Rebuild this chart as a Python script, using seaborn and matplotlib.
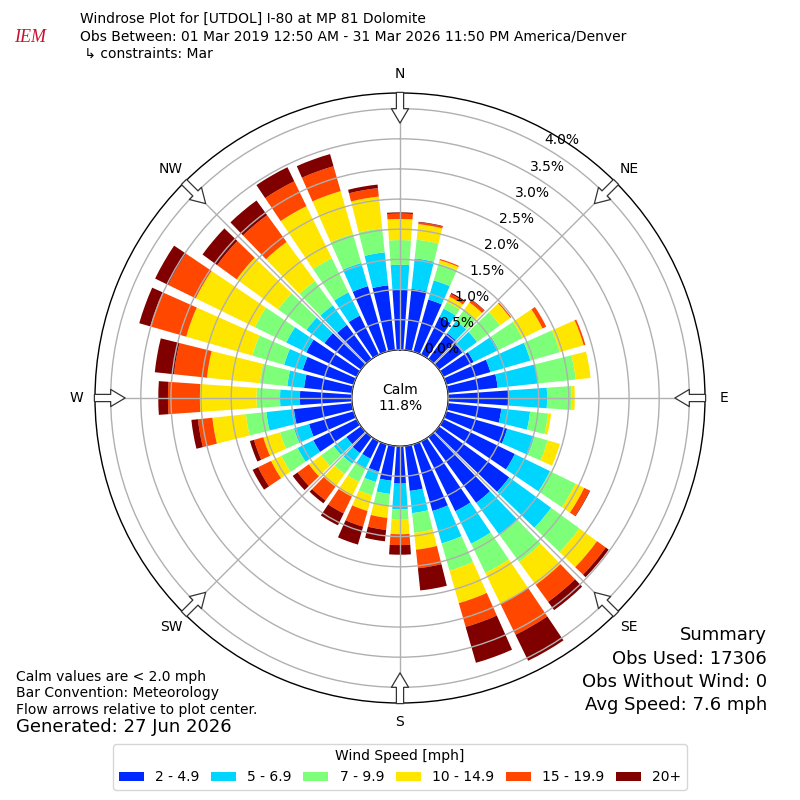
"""
Windrose plot for UTDOL (I-80 at MP 81 Dolomite), March observations.
Stacked polar bars, meteorology convention, calm percentage in the centre.
"""

import numpy as np
import matplotlib
matplotlib.use("Agg")
import matplotlib.pyplot as plt
from matplotlib.patches import Patch
import seaborn as sns


DIRECTIONS = list(range(0, 360, 10))
SPEED_BINS = ["2 - 4.9", "5 - 6.9", "7 - 9.9", "10 - 14.9", "15 - 19.9", "20+"]

# frequency [%] per direction for each speed bin
FREQ_2_5 = [1.00, 1.02, 0.90, 0.70, 0.53, 0.48, 0.56, 0.76, 0.83, 1.00, 0.89, 1.05,
            1.32, 1.44, 1.35, 1.29, 1.15, 0.75, 0.62, 0.58, 0.47, 0.32, 0.33, 0.30,
            0.80, 0.77, 0.97, 0.86, 0.80, 0.88, 0.93, 0.75, 0.70, 0.72, 1.13, 1.08]
FREQ_5_7 = [0.41, 0.51, 0.33, 0.15, 0.25, 0.30, 0.46, 0.69, 0.67, 0.64, 0.48, 0.47,
            0.65, 0.86, 0.65, 0.60, 0.56, 0.37, 0.43, 0.22, 0.18, 0.18, 0.22, 0.26,
            0.29, 0.26, 0.46, 0.33, 0.28, 0.32, 0.37, 0.37, 0.40, 0.43, 0.40, 0.55]
FREQ_7_10 = [0.41, 0.31, 0.29, 0.12, 0.22, 0.47, 0.44, 0.51, 0.63, 0.41, 0.30, 0.23,
             0.47, 0.58, 0.56, 0.54, 0.47, 0.33, 0.17, 0.20, 0.23, 0.25, 0.21, 0.26,
             0.30, 0.24, 0.34, 0.39, 0.46, 0.55, 0.58, 0.58, 0.50, 0.63, 0.50, 0.40]
FREQ_10_15 = [0.35, 0.26, 0.06, 0.10, 0.16, 0.21, 0.37, 0.41, 0.25, 0.05, 0.05, 0.21,
              0.16, 0.36, 0.47, 0.57, 0.56, 0.28, 0.24, 0.20, 0.27, 0.27, 0.26, 0.25,
              0.19, 0.29, 0.56, 0.94, 0.88, 1.14, 1.09, 0.85, 0.80, 0.96, 0.74, 0.53]
FREQ_15_20 = [0.09, 0.03, 0.02, 0.05, 0.05, 0.02, 0.07, 0.03, 0.00, 0.00, 0.00, 0.00,
              0.10, 0.18, 0.35, 0.57, 0.41, 0.31, 0.18, 0.20, 0.27, 0.31, 0.28, 0.23,
              0.24, 0.16, 0.24, 0.53, 0.55, 0.62, 0.51, 0.40, 0.55, 0.46, 0.43, 0.14]
FREQ_20P = [0.02, 0.01, 0.00, 0.02, 0.01, 0.00, 0.00, 0.00, 0.00, 0.00, 0.00, 0.00,
            0.01, 0.06, 0.17, 0.48, 0.62, 0.37, 0.16, 0.19, 0.31, 0.22, 0.06, 0.10,
            0.10, 0.07, 0.11, 0.16, 0.32, 0.19, 0.24, 0.30, 0.30, 0.26, 0.21, 0.06]

CALM_PCT = 11.8
RINGS = [0.0, 0.5, 1.0, 1.5, 2.0, 2.5, 3.0, 3.5, 4.0]
COMPASS = ["N", "NE", "E", "SE", "S", "SW", "W", "NW"]

TITLE_LINES = [
    "Windrose Plot for [UTDOL] I-80 at MP 81 Dolomite",
    "Obs Between: 01 Mar 2019 12:50 AM - 31 Mar 2026 11:50 PM America/Denver",
    " \u21b3 constraints: Mar",
]
NOTE_LINES = [
    "Calm values are < 2.0 mph",
    "Bar Convention: Meteorology",
    "Flow arrows relative to plot center.",
]
SUMMARY_LINES = [
    "Summary",
    "Obs Used: 17306",
    "Obs Without Wind: 0",
    "Avg Speed: 7.6 mph",
]

R_ORIGIN = -0.8
R_MAX = 4.26


def draw_rose(ax, colors):
    theta = np.deg2rad(DIRECTIONS)
    width = np.deg2rad(8)
    series = [FREQ_2_5, FREQ_5_7, FREQ_7_10, FREQ_10_15, FREQ_15_20, FREQ_20P]
    base = np.zeros(len(DIRECTIONS))
    for vals, color in zip(series, colors):
        vals = np.asarray(vals)
        ax.bar(theta, vals, width=width, bottom=base, color=color,
               edgecolor="none", linewidth=0, zorder=1)
        base = base + vals


def style_axes(ax):
    ax.set_theta_zero_location("N")
    ax.set_theta_direction(-1)
    ax.set_rorigin(R_ORIGIN)
    ax.set_ylim(0, R_MAX)
    ax.set_axisbelow(False)

    ax.set_rgrids(RINGS, labels=[f"{r:.1f}%" for r in RINGS], angle=30, fontsize=10)
    ax.set_thetagrids(np.arange(0, 360, 45), labels=COMPASS, fontsize=10)
    ax.tick_params(axis="x", pad=3)
    ax.grid(True, color="#b0b0b0", linewidth=1)
    ax.spines["polar"].set_color("black")
    ax.spines["polar"].set_linewidth(1)
    ax.spines["inner"].set_visible(True)
    ax.spines["inner"].set_color("black")
    ax.spines["inner"].set_linewidth(1)

    # hollow flow arrows pointing at the centre
    for ang in np.arange(0, 360, 45):
        th = np.deg2rad(ang)
        ax.annotate(
            "", xy=(th, 3.76), xytext=(th, R_MAX + 0.01),
            arrowprops=dict(arrowstyle="simple,head_length=0.8,head_width=0.95,tail_width=0.4",
                            fc="white", ec="#333333", lw=0.9, mutation_scale=13,
                            shrinkA=0, shrinkB=0),
            annotation_clip=False, zorder=5,
        )

    ax.text(0.5, 0.5, f"Calm\n{CALM_PCT:.1f}%", transform=ax.transAxes,
            ha="center", va="center", fontsize=10, zorder=6)


def add_texts(fig):
    for i, line in enumerate(TITLE_LINES):
        fig.text(80 / 800, 1 - (19 + 17.5 * i) / 800, line, ha="left", va="center", fontsize=10)
    fig.text(14 / 800, 1 - 38 / 800, "IEM", color="#c8102e", fontsize=13,
             fontstyle="italic", family=["Liberation Serif", "DejaVu Serif"], va="center")

    for i, line in enumerate(NOTE_LINES):
        fig.text(16 / 800, 1 - (677 + 16.5 * i) / 800, line, ha="left", va="center", fontsize=10)
    fig.text(16 / 800, 1 - 727 / 800, "Generated: 27 Jun 2026", ha="left", va="center", fontsize=13)

    for i, line in enumerate(SUMMARY_LINES):
        fig.text(767 / 800, 1 - (635 + 23.5 * i) / 800, line, ha="right", va="center", fontsize=13)


def main():
    sns.set_style("white")
    plt.rcParams["font.family"] = ["DejaVu Sans"]
    for key in ["text.color", "axes.labelcolor", "xtick.color", "ytick.color"]:
        plt.rcParams[key] = "black"
    colors = [plt.cm.jet(v) for v in np.linspace(0, 1, 7)[1:]]

    fig = plt.figure(figsize=(8, 8), dpi=100)
    ax = fig.add_axes([95 / 800, 97 / 800, 610 / 800, 610 / 800], projection="polar")
    draw_rose(ax, colors)
    style_axes(ax)
    add_texts(fig)

    handles = [Patch(facecolor=c, edgecolor="none") for c in colors]
    leg = fig.legend(handles, SPEED_BINS, loc="lower center", bbox_to_anchor=(0.5, 0.004),
                     ncol=6, title="Wind Speed [mph]", fontsize=10, title_fontsize=10,
                     frameon=True, handlelength=1.8, columnspacing=0.85)
    leg.get_frame().set_edgecolor("#cccccc")

    fig.savefig("out.png", dpi=100)
    plt.close(fig)


if __name__ == "__main__":
    main()
